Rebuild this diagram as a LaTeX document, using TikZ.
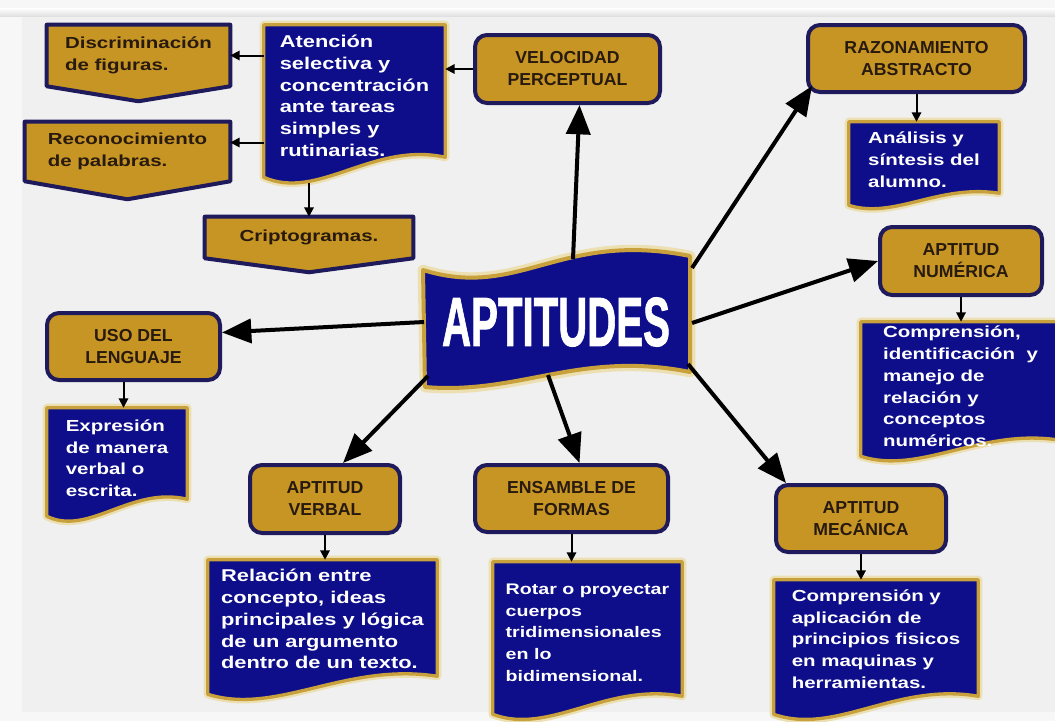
\documentclass[tikz,border=0pt]{standalone}
\usepackage{fontspec}
\setmainfont{Liberation Sans}[FakeStretch=1.28]
\newfontfamily\ttlfam{Liberation Sans}[FakeStretch=1.02]
\newfontfamily\bigfam{Liberation Sans}[FakeBold=1.5]
\usepackage{graphicx}
\usetikzlibrary{arrows.meta,calc}
\definecolor{gold}{RGB}{198,149,36}
\definecolor{navy}{RGB}{30,26,92}
\definecolor{docblue}{RGB}{14,14,138}
\definecolor{docgold}{RGB}{200,160,60}
\definecolor{glow}{RGB}{236,224,178}
\definecolor{ttext}{RGB}{40,26,14}
\definecolor{pagebgc}{RGB}{240,240,240}
\pgfdeclarelayer{pagebg}
\pgfdeclarelayer{shapes}
\pgfsetlayers{pagebg,shapes,main}
\newcommand\bdyfont{\bfseries\fontsize{12pt}{16.3pt}\selectfont}
\newcommand\ttlfont{\ttlfam\bfseries\fontsize{13pt}{16.5pt}\selectfont}
% document shape: node name, wave amplitude (px), style
\newcommand\docpath[3]{\path[#3] (#1.north west) -- (#1.north east) -- ($(#1.south east)+(0,-#2)$) .. controls ($(#1.south west)!0.6!(#1.south east)+(0,-1.8*#2)$) and ($(#1.south west)!0.3!(#1.south east)+(0,1.2*#2)$) .. (#1.south west) -- cycle;}
\newcommand\docshp[2]{\docpath{#1}{#2}{docglowst}\docpath{#1}{#2}{docst}}
% off-page shape: node name, point depth (px)
\newcommand\oppath[2]{\path[opst] (#1.north west) -- (#1.north east) -- (#1.south east) -- ($(#1.south)+(0,#2)$) -- (#1.south west) -- cycle;}
\newcommand\bannerpath[1]{\path[#1] (423,270) .. controls (520,300) and (560,230) .. (690,256) -- (690,372) .. controls (580,350) and (520,395) .. (425,387) -- cycle;}
\begin{document}
\begin{tikzpicture}[x=0.75pt,y=-0.75pt,
 title/.style={draw=navy, line width=3pt, fill=gold, rounded corners=9pt, text=ttext, font=\ttlfont, align=center, inner sep=0pt},
 optext/.style={font=\bdyfont, text=ttext, align=left, inner sep=0pt},
 doctext/.style={font=\bdyfont, text=white, align=left, inner sep=0pt},
 opst/.style={draw=navy, line width=3pt, fill=gold, line join=round},
 docglowst/.style={draw=glow, line width=6pt, line join=round},
 docst/.style={draw=docgold, line width=2.5pt, fill=docblue, line join=round},
 bigarrow/.style={line width=3pt, -{Triangle[length=22pt,width=18pt]}},
 smallarrow/.style={line width=1.5pt, -{Triangle[length=7pt,width=7pt]}},
]
\useasboundingbox (0,0) rectangle (1055,721);
\begin{pgfonlayer}{pagebg}
\fill[white!97!black] (0,0) rectangle (1055,721);
\fill[pagebgc] (22,16) rectangle (1055,712);
\shade[top color=white, bottom color=black!12] (0,8) rectangle (1055,16);
\end{pgfonlayer}

% title boxes
\node[title, minimum width=138.75pt, minimum height=51pt] (vel) at (567.5,69) {VELOCIDAD\\PERCEPTUAL};
\node[title, minimum width=162.75pt, minimum height=50.25pt] (raz) at (916.5,58.5) {RAZONAMIENTO\\ABSTRACTO};
\node[title, minimum width=121.5pt, minimum height=51pt] (num) at (961,261) {APTITUD\\NUMÉRICA};
\node[title, minimum width=129.75pt, minimum height=50.25pt] (uso) at (133.5,346.5) {USO DEL\\LENGUAJE};
\node[title, minimum width=112.5pt, minimum height=51pt] (verb) at (325,499) {APTITUD\\VERBAL};
\node[title, minimum width=144.75pt, minimum height=50.25pt] (ens) at (571.5,498.5) {ENSAMBLE DE\\FORMAS};
\node[title, minimum width=127.5pt, minimum height=50.25pt] (mec) at (861,518.5) {APTITUD\\MECÁNICA};

% off-page (gold) boxes
\node[optext, minimum width=137.25pt, minimum height=45.75pt] (disc) at (138.5,55.5) {Discriminación\\de figuras.};
\node[optext, minimum width=153.75pt, minimum height=44.25pt] (recon) at (127.5,151.5) {Reconocimiento\\de palabras.};
\node[optext, minimum width=156pt, minimum height=30.75pt] (cripto) at (309,237.5) {Criptogramas.};

% document (blue) boxes
\node[doctext, font=\bfseries\fontsize{12.8pt}{16.3pt}\selectfont, text depth=8pt, minimum width=135.75pt, minimum height=114pt] (aten) at (354.5,101) {Atención\\selectiva y\\concentración\\ante tareas\\simples y\\rutinarias.};
\node[doctext, text depth=6pt, minimum width=112.5pt, minimum height=62.25pt] (anal) at (924,163.5) {Análisis y\\síntesis del\\alumno.};
\node[doctext, text depth=4pt, minimum width=149.25pt, minimum height=100.5pt] (numt) at (960.5,389) {Comprensión,\\identificación\ \ y\\manejo de\\relación y\\conceptos\\numéricos.};
\node[doctext, text depth=6pt, minimum width=105pt, minimum height=81pt] (expr) at (117,462) {Expresión\\de manera\\verbal o\\escrita.};
\node[doctext, font=\bfseries\fontsize{12.8pt}{16.3pt}\selectfont, text depth=12pt, minimum width=171.75pt, minimum height=100.5pt] (rel) at (322.5,627) {Relación entre\\concepto, ideas\\principales y lógica\\de un argumento\\dentro de un texto.};
\node[doctext, font=\bfseries\fontsize{11.5pt}{16.3pt}\selectfont, text depth=8pt, minimum width=141.75pt, minimum height=114pt] (rot) at (587.5,638) {Rotar o proyectar\\cuerpos\\tridimensionales\\en lo\\bidimensional.};
\node[doctext, text depth=12pt, minimum width=153pt, minimum height=100.5pt] (mect) at (876,647) {Comprensión y\\aplicación de\\principios fisicos\\en maquinas y\\herramientas.};

% central banner
\node[text=white, font=\bigfam\bfseries\fontsize{52pt}{52pt}\selectfont, inner sep=0pt] (apt) at (556,322) {\scalebox{0.58}[1]{APTITUDES}};
\coordinate (s1) at (573,259);
\coordinate (s2) at (692,268);
\coordinate (s3) at (692,323);
\coordinate (s4) at (424,322);
\coordinate (s5) at (428,376);
\coordinate (s6) at (548,375);
\coordinate (s7) at (688,364);

\begin{pgfonlayer}{shapes}
\oppath{disc}{15}
\oppath{recon}{18}
\oppath{cripto}{14}
\docshp{aten}{20}
\docshp{anal}{12}
\docshp{numt}{16}
\docshp{expr}{17}
\docshp{rel}{18}
\docshp{rot}{18}
\docshp{mect}{18}
\bannerpath{docglowst, line width=8pt}
\bannerpath{docst, line width=3pt}
\end{pgfonlayer}

% big arrows
\draw[bigarrow] (s1) -- ($(vel.south)+(12,0)$);
\draw[bigarrow] (s2) -- ($(raz.south west)+(6,-8)$);
\draw[bigarrow] (s3) -- (num.west);
\draw[bigarrow] (s4) -- ($(uso.east)+(0,-14)$);
\draw[bigarrow] (s5) -- ($(verb.north)+(18,0)$);
\draw[bigarrow] (s6) -- ($(ens.north)+(8,0)$);
\draw[bigarrow] (s7) -- ($(mec.north west)+(12,0)$);

% small arrows
\draw[smallarrow] (vel.west) -- (vel.west -| aten.east);
\draw[smallarrow] (aten.west |- disc.east) -- (disc.east);
\draw[smallarrow] ($(aten.west |- recon.east)+(0,-9)$) -- ($(recon.east)+(0,-9)$);
\draw[smallarrow] ($(cripto.north |- aten.south)+(0,6)$) -- (cripto.north);
\draw[smallarrow] (raz.south) -- (raz.south |- anal.north);
\draw[smallarrow] (num.south) -- (num.south |- numt.north);
\draw[smallarrow] ($(uso.south)+(-10,0)$) -- ($(uso.south |- expr.north)+(-10,0)$);
\draw[smallarrow] (verb.south) -- (verb.south |- rel.north);
\draw[smallarrow] (ens.south) -- (ens.south |- rot.north);
\draw[smallarrow] (mec.south) -- (mec.south |- mect.north);
\end{tikzpicture}
\end{document}
